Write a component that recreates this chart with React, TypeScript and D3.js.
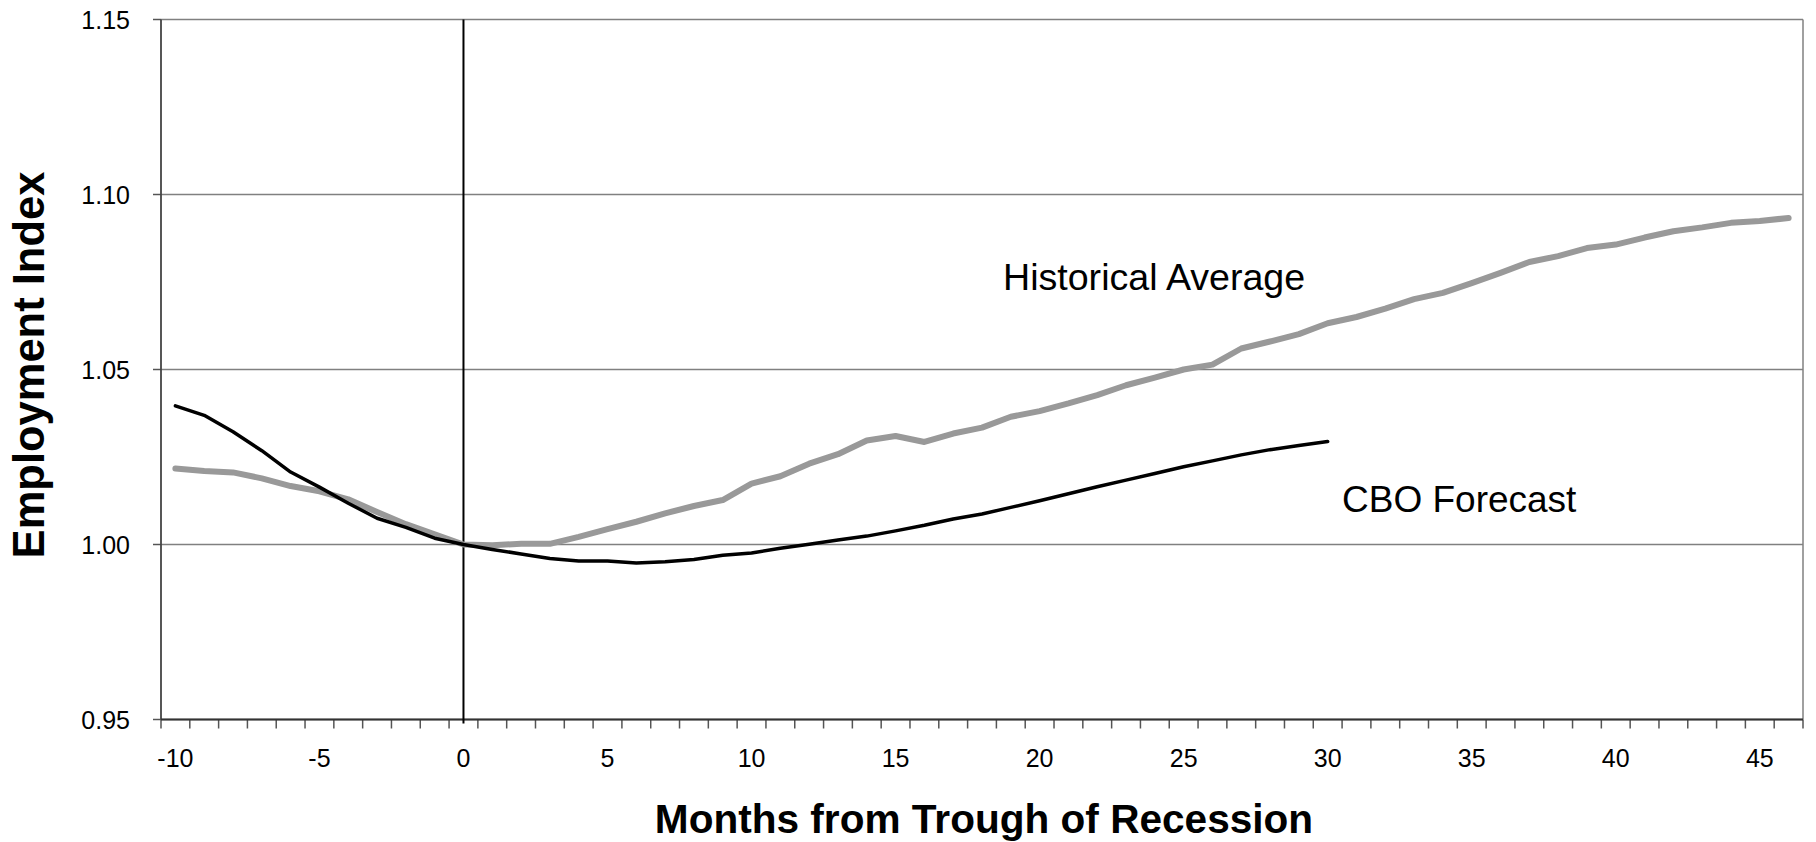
import React from "react";
import * as d3 from "d3";

const months = d3.range(-10, 47);
const cboMonths = d3.range(-10, 31);

const historicalAverage = [
  1.0217, 1.021, 1.0206, 1.0189, 1.0167, 1.0152, 1.0129, 1.0093, 1.0058, 1.0029,
  1.0, 0.9998, 1.0002, 1.0002, 1.0022, 1.0044, 1.0065, 1.0089, 1.011, 1.0127,
  1.0174, 1.0195, 1.0231, 1.0258, 1.0297, 1.031, 1.0293, 1.0317, 1.0334, 1.0365,
  1.0381, 1.0403, 1.0427, 1.0455, 1.0477, 1.05, 1.0514, 1.056, 1.058, 1.0601,
  1.0632, 1.065, 1.0674, 1.0701, 1.0719, 1.0747, 1.0776, 1.0807, 1.0824, 1.0847,
  1.0857, 1.0877, 1.0895, 1.0906, 1.0919, 1.0924, 1.0933,
];

const cboForecast = [
  1.0396, 1.0369, 1.0322, 1.0268, 1.0207, 1.0164, 1.0118, 1.0075, 1.0049, 1.0018,
  1.0, 0.9986, 0.9973, 0.996, 0.9953, 0.9953, 0.9947, 0.9951, 0.9957, 0.9969,
  0.9976, 0.9989, 1.0001, 1.0013, 1.0024, 1.0039, 1.0055, 1.0073, 1.0087, 1.0106,
  1.0125, 1.0145, 1.0165, 1.0184, 1.0203, 1.0222, 1.0239, 1.0256, 1.0271, 1.0283,
  1.0294,
];

const yTicks = [0.95, 1.0, 1.05, 1.1, 1.15];
const xTickLabels = [-10, -5, 0, 5, 10, 15, 20, 25, 30, 35, 40, 45];

const FONT = "'Liberation Sans', Arial, Helvetica, sans-serif";

export default function App() {
  const W = 1816;
  const H = 842;
  const left = 161;
  const right = 1803;
  const top = 19.5;
  const bottom = 719.5;

  const x = d3.scaleLinear().domain([-10.5, 46.5]).range([left, right]);
  const y = d3.scaleLinear().domain([0.95, 1.15]).range([bottom, top]);

  const histLine = d3
    .line<number>()
    .x((_, i) => x(months[i]))
    .y((d) => y(d));
  const cboLine = d3
    .line<number>()
    .x((_, i) => x(cboMonths[i]))
    .y((d) => y(d));

  const boundaries = d3.range(-10.5, 47, 1);

  return (
    <svg
      width={W}
      height={H}
      style={{ position: "absolute", left: 0, top: 0, background: "#fff" }}
      fontFamily={FONT}
    >
      <rect x={0} y={0} width={W} height={H} fill="#fff" />
      {yTicks.map((t) => (
        <line
          key={"g" + t}
          x1={left}
          x2={right}
          y1={y(t)}
          y2={y(t)}
          stroke="#808080"
          strokeWidth={1.5}
        />
      ))}
      <line x1={right} x2={right} y1={top} y2={bottom} stroke="#808080" strokeWidth={1.5} />
      {yTicks.map((t) => (
        <line
          key={"yt" + t}
          x1={left - 8}
          x2={left}
          y1={y(t)}
          y2={y(t)}
          stroke="#555"
          strokeWidth={1.5}
        />
      ))}
      {yTicks.map((t) => (
        <text
          key={"yl" + t}
          x={130}
          y={y(t) + 9}
          textAnchor="end"
          fontSize={25}
          fill="#000"
        >
          {t.toFixed(2)}
        </text>
      ))}
      <line x1={left} x2={left} y1={top} y2={bottom} stroke="#444" strokeWidth={1.8} />
      {boundaries.map((b) => (
        <line
          key={"xt" + b}
          x1={x(b)}
          x2={x(b)}
          y1={bottom}
          y2={bottom + 9}
          stroke="#555"
          strokeWidth={1.5}
        />
      ))}
      <line x1={left} x2={right} y1={bottom} y2={bottom} stroke="#333" strokeWidth={2} />
      {xTickLabels.map((t) => (
        <text
          key={"xl" + t}
          x={x(t)}
          y={767}
          textAnchor="middle"
          fontSize={25}
          fill="#000"
        >
          {t}
        </text>
      ))}
      <line x1={x(0)} x2={x(0)} y1={top} y2={bottom + 4} stroke="#000" strokeWidth={2} />
      <path
        d={histLine(historicalAverage) || ""}
        fill="none"
        stroke="#999999"
        strokeWidth={6}
        strokeLinejoin="round"
        strokeLinecap="round"
      />
      <path
        d={cboLine(cboForecast) || ""}
        fill="none"
        stroke="#000"
        strokeWidth={3.5}
        strokeLinejoin="round"
        strokeLinecap="round"
      />
      <text x={1003} y={290} fontSize={37.6} fill="#000">
        Historical Average
      </text>
      <text x={1342} y={512} fontSize={37} fill="#000">
        CBO Forecast
      </text>
      <text x={984} y={833} textAnchor="middle" fontSize={40.6} fontWeight="bold" fill="#000">
        Months from Trough of Recession
      </text>
      <text
        transform="translate(44,365) rotate(-90)"
        textAnchor="middle"
        fontSize={43.5}
        fontWeight="bold"
        fill="#000"
      >
        Employment Index
      </text>
    </svg>
  );
}
